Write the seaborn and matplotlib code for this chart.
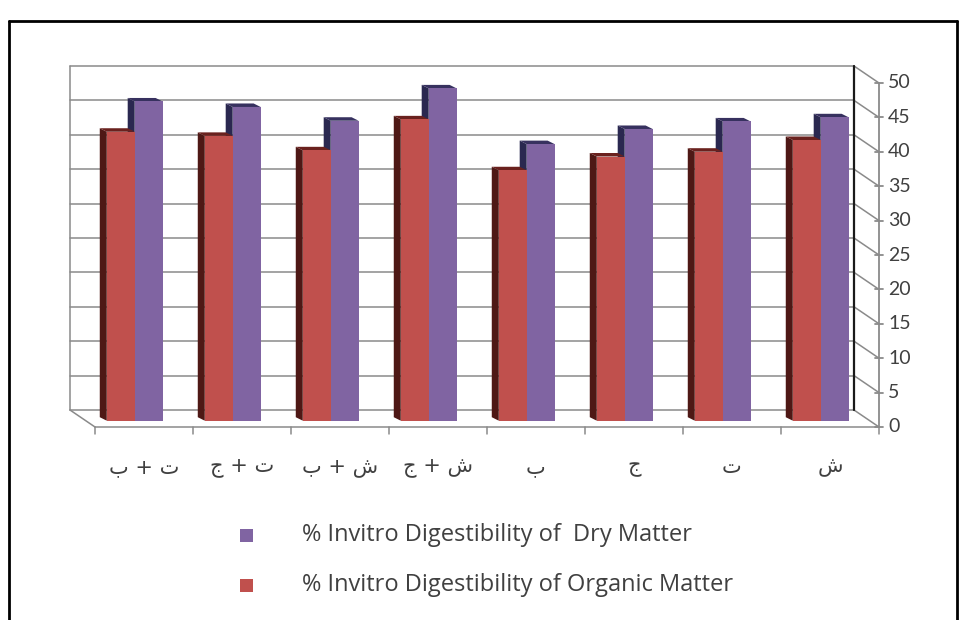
import numpy as np
import pandas as pd
import matplotlib
matplotlib.use("Agg")
import matplotlib.pyplot as plt
import seaborn as sns
from matplotlib.patches import Polygon, Rectangle
from matplotlib.lines import Line2D

# ---- data -------------------------------------------------------------
treatments = ["ب + ت", "ج + ت", "ب + ش", "ج + ش", "ب", "ج", "ت", "ش"]
organic_matter = [42.0, 41.4, 39.3, 43.8, 36.4, 38.4, 39.1, 40.8]
dry_matter = [46.4, 45.6, 43.6, 48.3, 40.2, 42.4, 43.5, 44.1]
value_ticks = [0, 5, 10, 15, 20, 25, 30, 35, 40, 45, 50]
dry_label = "% Invitro Digestibility of  Dry Matter"
organic_label = "% Invitro Digestibility of Organic Matter"

# ---- style ------------------------------------------------------------
W, H, DPI = 960, 620, 100
sns.set_style("white")
plt.rcParams["font.family"] = ["Lato", "DejaVu Sans"]

RED, RED_SIDE, RED_TOP = "#C0504D", "#4E1815", "#6A211E"
PURPLE, PURPLE_SIDE, PURPLE_TOP = "#8064A2", "#2A2850", "#37315F"
GRID = "#8A8A8A"
TEXT = "#404040"

# pixel offsets (dx right, dy down) of the back wall, front edge and bar depth
WALL = (-15.7, -10.7)
FRONT = (9.3, 6.3)
DEPTH = (-7.0, -3.5)

fig = plt.figure(figsize=(W / DPI, H / DPI), dpi=DPI)
fig.patch.set_facecolor("white")

# axes holding the front faces of the columns
left_px, right_px, top_px, bottom_px = 85.7, 869.7, 76.7, 420.7
ax = fig.add_axes([left_px / W, (H - bottom_px) / H,
                   (right_px - left_px) / W, (bottom_px - top_px) / H])

df = pd.DataFrame({
    "treatment": treatments * 2,
    "series": ["organic"] * len(treatments) + ["dry"] * len(treatments),
    "value": organic_matter + dry_matter,
})

sns.barplot(data=df, x="treatment", y="value", hue="series",
            order=treatments, hue_order=["organic", "dry"],
            palette={"organic": RED, "dry": PURPLE}, width=0.57,
            saturation=1, legend=False, linewidth=0, zorder=3, ax=ax)

n = len(treatments)
ax.set_xlim(-0.5, n - 0.5)
ax.set_ylim(0, 50)
ax.axis("off")


def shift(x, y, off):
    """Data point moved by a pixel offset, returned in data coordinates."""
    dx, dy = ax.transData.transform((x, y))
    return tuple(ax.transData.inverted().transform((dx + off[0], dy - off[1])))


def line(p, q, **kw):
    kw.setdefault("color", GRID)
    kw.setdefault("lw", 1.1)
    ax.add_line(Line2D([p[0], q[0]], [p[1], q[1]], clip_on=False, **kw))


x_lo, x_hi = -0.5, n - 0.5

# back wall grid and edges
for v in value_ticks:
    line(shift(x_lo, v, WALL), shift(x_hi, v, WALL), zorder=0.6)
line(shift(x_lo, 0, WALL), shift(x_lo, 50, WALL), zorder=0.6)
line(shift(x_hi, 0, WALL), shift(x_hi, 50, WALL), color="#1a1a1a", lw=1.6, zorder=0.7)

# side wall on the value-axis side
for v in value_ticks:
    line(shift(x_hi, v, WALL), shift(x_hi, v, FRONT), zorder=0.6)

# floor edges
line(shift(x_lo, 0, WALL), shift(x_lo, 0, FRONT), zorder=0.6)
line(shift(x_lo, 0, FRONT), shift(x_hi, 0, FRONT), zorder=0.6)

# value axis at the front edge
line(shift(x_hi, 0, FRONT), shift(x_hi, 50, FRONT), lw=1.3, zorder=0.8)
for v in value_ticks:
    line(shift(x_hi, v, (FRONT[0] - 4, FRONT[1])),
         shift(x_hi, v, (FRONT[0] + 4, FRONT[1])), lw=1.3, zorder=0.8)
    tx, ty = shift(x_hi, v, (FRONT[0] + 9, FRONT[1]))
    ax.text(tx, ty, str(v), ha="left", va="center", fontsize=14,
            color=TEXT, clip_on=False)

# category ticks and labels
for i in range(n + 1):
    line(shift(i - 0.5, 0, FRONT), shift(i - 0.5, 0, (FRONT[0], FRONT[1] + 7)),
         lw=1.1, zorder=0.8)
for i, name in enumerate(treatments):
    tx, ty = shift(i, 0, (FRONT[0], FRONT[1] + 40))
    ax.text(tx, ty, name, ha="center", va="center", fontsize=15,
            color=TEXT, family=["DejaVu Sans"], clip_on=False)

# depth faces of each column
bars = [p for p in ax.patches if isinstance(p, Rectangle) and p.get_height() > 0]
for p in bars:
    x0, w, h = p.get_x(), p.get_width(), p.get_height()
    fc = matplotlib.colors.to_hex(p.get_facecolor())
    is_red = fc.lower() == RED.lower()
    side_c, top_c = (RED_SIDE, RED_TOP) if is_red else (PURPLE_SIDE, PURPLE_TOP)
    z = 2.1 if is_red else 2.0
    side = [(x0, 0), (x0, h), shift(x0, h, DEPTH), shift(x0, 0, DEPTH)]
    top = [(x0, h), (x0 + w, h), shift(x0 + w, h, DEPTH), shift(x0, h, DEPTH)]
    ax.add_patch(Polygon(side, closed=True, facecolor=side_c, edgecolor="none",
                         zorder=z, clip_on=False))
    ax.add_patch(Polygon(top, closed=True, facecolor=top_c, edgecolor="none",
                         zorder=z, clip_on=False))
    p.set_zorder(3.1 if is_red else 3.0)

# legend
for y_px, color, label in [(535, PURPLE, dry_label), (585, RED, organic_label)]:
    fig.add_artist(Rectangle(((246.5 - 6.5) / W, 1 - (y_px + 6.5) / H),
                             13 / W, 13 / H, transform=fig.transFigure,
                             facecolor=color, edgecolor="none"))
    fig.text(302 / W, 1 - y_px / H, label, ha="left", va="center",
             fontsize=17, color=TEXT, family=["Open Sans", "DejaVu Sans"])

# outer frame
for (x1, y1), (x2, y2) in [((9, 21), (957, 21)), ((9, 21), (9, 625)),
                           ((957, 21), (957, 625))]:
    fig.add_artist(Line2D([x1 / W, x2 / W], [1 - y1 / H, 1 - y2 / H],
                          transform=fig.transFigure, color="black", lw=2))

fig.savefig("out.png", dpi=DPI)
